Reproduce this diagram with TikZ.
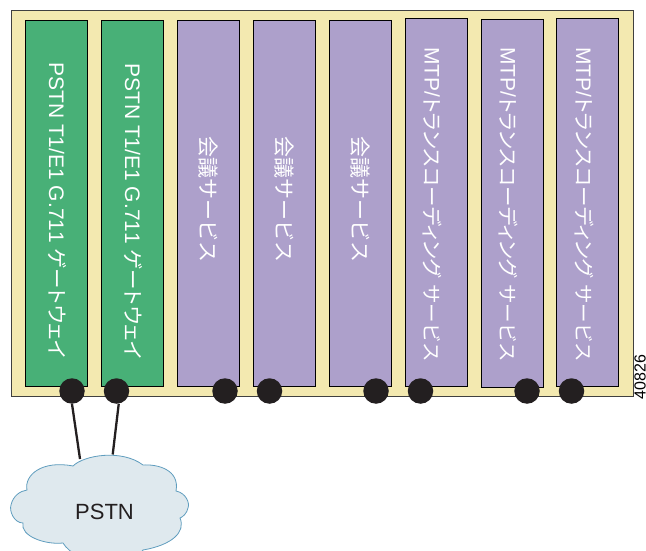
\documentclass[tikz,border=0pt]{standalone}
\usepackage{fontspec}
\setmainfont{Liberation Sans}[Kerning=Off]
\newfontfamily\cjk{Noto Sans CJK JP}
\newfontfamily\cjkp{Noto Sans CJK JP}[RawFeature=+palt]
\newcommand{\jp}[2]{{\cjk\fontsize{#1}{24}\selectfont #2}}
\newcommand{\jpp}[2]{{\cjkp\fontsize{#1}{24}\selectfont #2}}
\definecolor{chassis}{HTML}{F3E9B0}
\definecolor{gw}{HTML}{48B077}
\definecolor{svc}{HTML}{ADA0CB}
\definecolor{dotc}{HTML}{231F20}
\definecolor{cloudc}{HTML}{DFE9EE}
\definecolor{cloude}{HTML}{5F9DBE}
\tikzset{
  x=1pt,y=-1pt,
  chassisbox/.style={draw=black!75,fill=chassis,line width=1pt},
  gwcard/.style={draw=black,fill=gw,line width=1pt},
  svccard/.style={draw=black,fill=svc,line width=1pt},
  port/.style={circle,fill=dotc,inner sep=0pt,minimum size=25.5pt},
  link/.style={draw=dotc,line width=2.3pt},
  cardtext/.style={rotate=-90,anchor=west,text=white,inner sep=0pt,font=\fontsize{21}{24}\selectfont},
}
\newcommand{\gwtext}{PSTN T1/E1 G.711 \jpp{20.5}{ゲートウェイ}}
\newcommand{\mtptext}{MTP/\jpp{20.5}{トランスコーディング}\hspace{7pt}\jp{19.5}{サービス}}
\begin{document}
\begin{tikzpicture}
\useasboundingbox (0,0) rectangle (646,551);
\draw[chassisbox] (11,11) rectangle (633,396);
\draw[gwcard] (25.5,20.5) rectangle (87.5,386);
\draw[gwcard] (101.5,20.5) rectangle (163.5,386);
\draw[svccard] (177.5,20.5) rectangle (239.5,386);
\draw[svccard] (253,20.5) rectangle (315,386);
\draw[svccard] (329,20.5) rectangle (391,386);
\draw[svccard] (405,18.5) rectangle (467,386);
\draw[svccard] (481,19.5) rectangle (543,387);
\draw[svccard] (556,18.5) rectangle (618,386);
\node[cardtext] (t1) at (57,62) {\gwtext};
\node[cardtext] (t2) at (133,63) {\gwtext};
\node[cardtext] (t3) at (208,136) {\jp{21}{会議サービス}};
\node[cardtext] (t4) at (284,136) {\jp{21}{会議サービス}};
\node[cardtext] (t5) at (360,136) {\jp{21}{会議サービス}};
\node[cardtext] (t6) at (432.5,47) {\mtptext};
\node[cardtext] (t7) at (508.5,47) {\mtptext};
\node[cardtext] (t8) at (584,47) {\mtptext};
\node[rotate=90,font=\fontsize{16}{16}\selectfont,inner sep=0pt] (num) at (640,377) {40826};
\filldraw[draw=cloude,fill=cloudc,line width=0.8pt]
  (73,466) .. controls (84,455) and (122,449) .. (143,465)
  .. controls (158,464) and (180,470) .. (176,491)
  .. controls (186,493) and (190,503) .. (188,508)
  .. controls (187,513) and (183,517) .. (180,518)
  .. controls (186,532) and (172,545) .. (143,550)
  .. controls (141,552) and (140,554) .. (139,556)
  -- (78,556) .. controls (72,553) and (66,548) .. (63,543)
  .. controls (45,545) and (20,536) .. (23,523)
  .. controls (14,523) and (9,511) .. (11,505)
  .. controls (13,496) and (20,491) .. (27,490)
  .. controls (24,475) and (42,460) .. (73,466) -- cycle;
\coordinate (c1) at (80,459);
\coordinate (c2) at (112.7,454.5);
\node[font=\fontsize{22}{24}\selectfont,text=dotc,inner sep=0pt] (pstn) at (104.5,512) {PSTN};
\node[port] (p1) at (72,391) {};
\node[port] (p2) at (116.5,391) {};
\node[port] (p3) at (225,391) {};
\node[port] (p4) at (269.5,391) {};
\node[port] (p5) at (376,391) {};
\node[port] (p6) at (420.5,391) {};
\node[port] (p7) at (527,391) {};
\node[port] (p8) at (571.5,391) {};
\draw[link] (p1.south) -- (c1);
\draw[link] (p2.-80) -- (c2);
\end{tikzpicture}
\end{document}
